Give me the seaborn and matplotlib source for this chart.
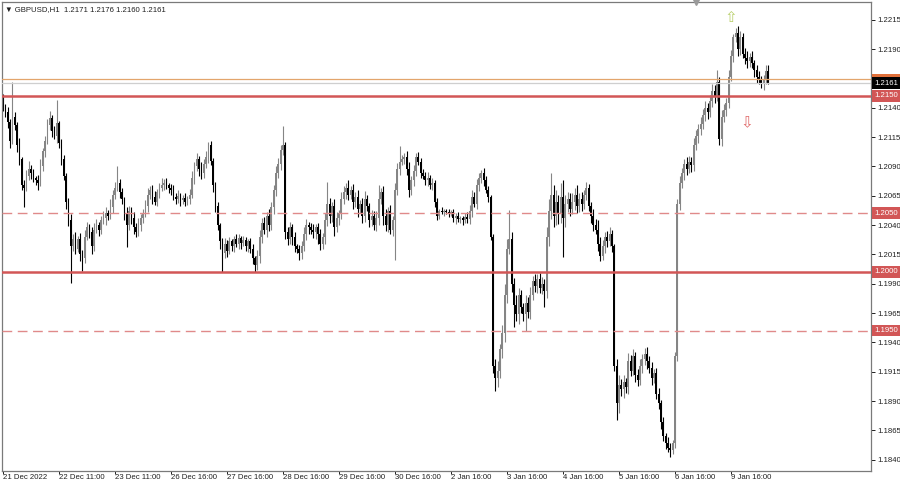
import numpy as np
import pandas as pd
import matplotlib
matplotlib.use("Agg")
import matplotlib.pyplot as plt
import matplotlib.transforms as mtransforms
from matplotlib.patches import Rectangle
import seaborn as sns

# GBPUSD H1 closes, 21 Dec 2022 -> 10 Jan 2023
first_open = 1.2148
close = [
    1.2140, 1.2136, 1.2128, 1.2112, 1.2132, 1.2125, 1.2108, 1.2096, 1.2074, 1.2072, 1.2082, 1.2088, 1.2084, 1.2080, 1.2078, 1.2076, 1.2090, 1.2103, 1.2112, 1.2125,
    1.2131, 1.2120, 1.2116, 1.2127, 1.2110, 1.2096, 1.2082, 1.2060, 1.2044, 1.2022, 1.2028, 1.2020, 1.2028, 1.2015, 1.2012, 1.2030, 1.2038, 1.2034, 1.2022, 1.2036,
    1.2040, 1.2036, 1.2044, 1.2046, 1.2050, 1.2048, 1.2055, 1.2066, 1.2072, 1.2076, 1.2068, 1.2062, 1.2050, 1.2040, 1.2052, 1.2046, 1.2038, 1.2034, 1.2040, 1.2046,
    1.2050, 1.2056, 1.2066, 1.2070, 1.2064, 1.2060, 1.2068, 1.2072, 1.2074, 1.2076, 1.2074, 1.2072, 1.2070, 1.2064, 1.2062, 1.2065, 1.2061, 1.2063, 1.2060, 1.2062,
    1.2066, 1.2080, 1.2090, 1.2096, 1.2088, 1.2084, 1.2092, 1.2098, 1.2108, 1.2095, 1.2074, 1.2056, 1.2040, 1.2026, 1.2016, 1.2024, 1.2018, 1.2026, 1.2022, 1.2028,
    1.2024, 1.2029, 1.2025, 1.2027, 1.2022, 1.2026, 1.2020, 1.2012, 1.2006, 1.2014, 1.2030, 1.2042, 1.2036, 1.2048, 1.2040, 1.2055, 1.2070, 1.2084, 1.2092, 1.2104,
    1.2108, 1.2034, 1.2028, 1.2038, 1.2030, 1.2022, 1.2020, 1.2016, 1.2022, 1.2032, 1.2040, 1.2038, 1.2036, 1.2034, 1.2038, 1.2032, 1.2024, 1.2030, 1.2044, 1.2058,
    1.2048, 1.2056, 1.2038, 1.2046, 1.2050, 1.2062, 1.2068, 1.2072, 1.2066, 1.2070, 1.2060, 1.2064, 1.2054, 1.2058, 1.2048, 1.2062, 1.2056, 1.2044, 1.2048, 1.2040,
    1.2046, 1.2062, 1.2068, 1.2048, 1.2040, 1.2052, 1.2036, 1.2044, 1.2070, 1.2088, 1.2094, 1.2096, 1.2098, 1.2088, 1.2070, 1.2078, 1.2086, 1.2098, 1.2094, 1.2084,
    1.2082, 1.2078, 1.2080, 1.2074, 1.2076, 1.2060, 1.2048, 1.2052, 1.2051, 1.2052, 1.2051, 1.2050, 1.2051, 1.2046, 1.2048, 1.2045, 1.2046, 1.2044, 1.2047, 1.2045,
    1.2052, 1.2064, 1.2058, 1.2074, 1.2080, 1.2084, 1.2078, 1.2070, 1.2064, 1.2030, 1.1920, 1.1910, 1.1916, 1.1934, 1.1948, 1.1980, 1.2020, 1.2028, 1.1990, 1.1972,
    1.1964, 1.1980, 1.1970, 1.1964, 1.1974, 1.1966, 1.1980, 1.1992, 1.1988, 1.1994, 1.1986, 1.1990, 1.1984, 1.2030, 1.2052, 1.2066, 1.2048, 1.2060, 1.2050, 1.2064,
    1.2046, 1.2058, 1.2062, 1.2054, 1.2060, 1.2066, 1.2056, 1.2062, 1.2058, 1.2066, 1.2072, 1.2056, 1.2048, 1.2040, 1.2036, 1.2024, 1.2014, 1.2022, 1.2030, 1.2026,
    1.2032, 1.2022, 1.1920, 1.1888, 1.1904, 1.1900, 1.1906, 1.1902, 1.1924, 1.1916, 1.1928, 1.1912, 1.1908, 1.1920, 1.1926, 1.1930, 1.1924, 1.1918, 1.1910, 1.1914,
    1.1896, 1.1888, 1.1872, 1.1860, 1.1854, 1.1850, 1.1848, 1.1854, 1.1928, 1.2058, 1.2076, 1.2084, 1.2092, 1.2088, 1.2094, 1.2091, 1.2108, 1.2116, 1.2122, 1.2126,
    1.2134, 1.2140, 1.2136, 1.2146, 1.2154, 1.2150, 1.2162, 1.2113, 1.2132, 1.2138, 1.2144, 1.2166, 1.2184, 1.2200, 1.2204, 1.2190, 1.2200, 1.2186, 1.2182, 1.2180,
    1.2183, 1.2178, 1.2172, 1.2166, 1.2164, 1.2160, 1.2164, 1.2171, 1.2161,
]

# wick lengths beyond the body, in pips
wick_up = [
    4, 3, 5, 2, 30, 4, 3, 6, 2, 4, 5, 7, 3, 4, 2, 5, 6, 3, 4, 5,
    6, 3, 4, 20, 2, 3, 4, 2, 3, 5, 4, 6, 3, 5, 4, 6, 5, 3, 4, 6,
    5, 3, 4, 6, 5, 3, 7, 4, 5, 14, 3, 4, 2, 5, 4, 3, 5, 4, 6, 3,
    4, 5, 6, 3, 4, 5, 3, 4, 6, 3, 4, 2, 3, 4, 3, 5, 2, 3, 4, 3,
    5, 6, 4, 5, 3, 6, 4, 5, 3, 4, 2, 3, 4, 2, 3, 5, 3, 4, 2, 3,
    4, 3, 2, 4, 3, 2, 3, 4, 2, 5, 6, 4, 5, 3, 6, 5, 4, 6, 5, 4,
    16, 3, 4, 5, 3, 4, 2, 3, 4, 6, 5, 3, 4, 5, 3, 4, 5, 3, 6, 19,
    5, 4, 6, 5, 3, 6, 5, 4, 6, 3, 5, 4, 6, 3, 5, 7, 4, 3, 5, 4,
    6, 12, 4, 5, 6, 3, 5, 4, 6, 5, 13, 4, 3, 5, 6, 4, 5, 3, 4, 3,
    4, 3, 5, 3, 4, 2, 3, 2, 3, 2, 2, 3, 2, 3, 2, 3, 2, 2, 3, 4,
    5, 6, 4, 5, 4, 3, 5, 4, 3, 2, 2, 6, 8, 5, 7, 10, 8, 25, 6, 5,
    8, 6, 5, 4, 6, 5, 7, 5, 6, 4, 5, 6, 4, 8, 10, 18, 8, 10, 6, 12,
    14, 8, 6, 5, 7, 6, 8, 5, 6, 4, 5, 3, 4, 6, 5, 8, 6, 5, 4, 5,
    6, 4, 2, 6, 8, 5, 6, 4, 7, 5, 6, 4, 5, 6, 4, 5, 6, 4, 5, 3,
    4, 5, 3, 4, 3, 5, 4, 3, 4, 4, 6, 5, 4, 6, 5, 4, 6, 5, 4, 6,
    5, 6, 4, 5, 6, 5, 10, 4, 6, 5, 4, 6, 5, 3, 4, 6, 5, 4, 5, 6,
    4, 5, 3, 4, 5, 3, 4, 5, 5,
]
wick_dn = [
    3, 4, 5, 6, 3, 4, 6, 5, 4, 17, 3, 4, 5, 3, 4, 6, 3, 4, 5, 3,
    4, 5, 3, 6, 4, 5, 4, 6, 5, 31, 4, 5, 3, 6, 11, 4, 3, 5, 7, 4,
    3, 5, 4, 3, 6, 4, 3, 5, 4, 3, 5, 4, 6, 19, 4, 5, 6, 4, 3, 5,
    4, 3, 5, 4, 6, 3, 4, 5, 3, 4, 3, 5, 4, 3, 4, 3, 5, 3, 4, 3,
    4, 3, 5, 4, 6, 5, 4, 3, 5, 4, 6, 5, 4, 6, 16, 4, 5, 3, 4, 5,
    3, 4, 5, 3, 4, 5, 4, 5, 6, 4, 6, 5, 4, 6, 5, 4, 6, 5, 4, 5,
    4, 6, 5, 4, 7, 5, 4, 6, 5, 4, 5, 6, 4, 5, 6, 8, 5, 4, 6, 5,
    6, 5, 7, 4, 6, 5, 4, 6, 5, 4, 6, 5, 7, 4, 6, 5, 4, 6, 5, 4,
    5, 6, 4, 8, 5, 6, 4, 5, 34, 4, 5, 3, 4, 5, 6, 4, 5, 4, 3, 4,
    3, 4, 5, 3, 4, 5, 4, 3, 2, 3, 2, 3, 2, 3, 5, 2, 3, 4, 2, 3,
    4, 5, 3, 4, 5, 4, 5, 3, 4, 3, 6, 11, 8, 6, 7, 8, 6, 5, 7, 19,
    6, 8, 5, 6, 14, 5, 6, 4, 5, 6, 4, 5, 14, 6, 8, 7, 10, 8, 9, 8,
    33, 8, 7, 6, 5, 7, 6, 5, 6, 4, 5, 4, 6, 5, 4, 6, 5, 4, 6, 5,
    4, 5, 4, 14, 8, 6, 7, 5, 6, 5, 4, 6, 5, 4, 6, 5, 7, 4, 6, 5,
    4, 5, 6, 4, 5, 3, 6, 3, 4, 4, 5, 4, 6, 5, 4, 6, 5, 4, 6, 5,
    4, 5, 6, 4, 5, 6, 4, 5, 6, 4, 5, 4, 3, 5, 4, 6, 5, 4, 5, 6,
    5, 4, 6, 5, 4, 3, 5, 4, 1,
]

tick_labels = ["21 Dec 2022", "22 Dec 11:00", "23 Dec 11:00", "26 Dec 16:00",
               "27 Dec 16:00", "28 Dec 16:00", "29 Dec 16:00", "30 Dec 16:00",
               "2 Jan 16:00", "3 Jan 16:00", "4 Jan 16:00", "5 Jan 16:00",
               "6 Jan 16:00", "9 Jan 16:00"]
bars_per_label = 24

solid_levels = [1.2150, 1.2000]
dashed_levels = [1.2050, 1.1950]
ask_level = 1.21645
bid_level = 1.2161
title = "\u25bc GBPUSD,H1  1.2171 1.2176 1.2160 1.2161"

# build OHLC table
df = pd.DataFrame({"close": close, "wick_up": wick_up, "wick_dn": wick_dn})
df["open"] = [first_open] + close[:-1]
df["high"] = df[["open", "close"]].max(axis=1) + df["wick_up"] / 1e4
df["low"] = df[["open", "close"]].min(axis=1) - df["wick_dn"] / 1e4
df["bar"] = np.arange(len(df))
df["bull"] = df["close"] >= df["open"]

sns.set_theme(style="white")
plt.rcParams["font.family"] = ["Liberation Sans", "DejaVu Sans"]

fig = plt.figure(figsize=(9, 4.83), dpi=100)
ax = fig.add_axes([2 / 900, 12 / 483, 869 / 900, 469 / 483])

bull_col, bear_col = "#858585", "#000000"
colors = np.where(df["bull"], bull_col, bear_col)

ax.vlines(df["bar"], df["low"], df["high"], colors=colors, linewidth=0.8, zorder=2)
body = (df["close"] - df["open"]).abs().clip(lower=0.00005)
ax.bar(df["bar"], body, bottom=df[["open", "close"]].min(axis=1), width=0.82,
       color=colors, linewidth=0, zorder=2)

# levels
for lv in solid_levels:
    ax.axhline(lv, color="#d25656", linewidth=1.8, zorder=3)
for lv in dashed_levels:
    ax.axhline(lv, color="#e08a8a", linewidth=1.0, dashes=(7, 4), zorder=3)
ax.axhline(ask_level, color="#e3a56c", linewidth=0.9, zorder=3)
ax.axhline(bid_level, color="#cfcfcf", linewidth=0.9, zorder=3)

ax.set_xlim(-0.5, 372)
ax.set_ylim(1.18304, 1.22301)

# axis styling
for s in ax.spines.values():
    s.set_color("#7a7a7a")
    s.set_linewidth(0.9)
ax.yaxis.tick_right()
yt = np.round(np.arange(1.1840, 1.2216, 0.0025), 4)
ax.set_yticks(yt)
# the 1.2165 label sits under the price tags
ax.set_yticklabels(["" if abs(v - 1.2165) < 1e-6 else f"{v:.4f}" for v in yt])
ax.tick_params(axis="y", right=True, length=3, width=0.7, pad=1.5,
               labelsize=5.6, colors="#202020")
xt = np.arange(len(tick_labels)) * bars_per_label
ax.set_xticks(xt)
ax.set_xticklabels(tick_labels, ha="left")
ax.tick_params(axis="x", bottom=True, length=2, width=0.7, pad=0.5,
               labelsize=5.6, colors="#202020")

# price tags on the right scale
tr = mtransforms.blended_transform_factory(ax.transAxes, ax.transData)
tag_h = 0.00078
ax.add_patch(Rectangle((1.0015, ask_level - tag_h / 2), 0.034, tag_h, transform=tr,
                       facecolor="#e0703a", edgecolor="none", clip_on=False, zorder=5))

def price_tag(y, txt, bg):
    ax.text(1.004, y, txt, transform=tr, ha="left", va="center", fontsize=5.6,
            color="white", clip_on=False, zorder=6,
            bbox=dict(boxstyle="square,pad=0.3", facecolor=bg, edgecolor="none"))

price_tag(bid_level, f"{bid_level:.4f}", "#000000")
for lv in solid_levels + dashed_levels:
    price_tag(lv, f"{lv:.4f}", "#d25656")

# title and arrow marks
ax.text(0.003, 0.992, title, transform=ax.transAxes, ha="left", va="top",
        fontsize=5.6, color="#202020")
ax.text(312, 1.22165, "\u21e7", ha="center", va="center", fontsize=11,
        color="#b8cf6a", family=["DejaVu Sans"])
ax.text(318.8, 1.2127, "\u21e9", ha="center", va="center", fontsize=11,
        color="#e06a6a", family=["DejaVu Sans"])
ax.plot([297], [1.0], marker="v", markersize=5, color="#9a9a9a",
        transform=mtransforms.blended_transform_factory(ax.transData, ax.transAxes),
        clip_on=False, zorder=6)

fig.savefig("out.png", dpi=100, facecolor="white")
